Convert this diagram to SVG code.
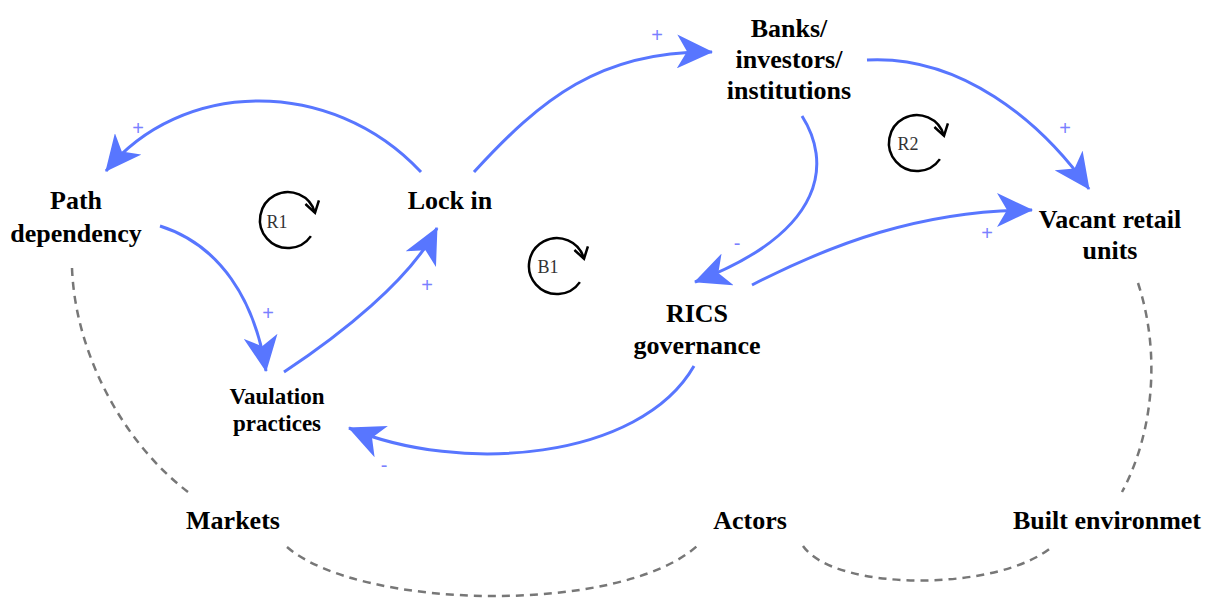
<svg xmlns="http://www.w3.org/2000/svg" width="1218" height="606" viewBox="0 0 1218 606">
<defs>
<style>
.node{font-family:"Liberation Serif","Times New Roman",serif;font-weight:bold;font-size:26px;fill:#000;text-anchor:middle}
.small{font-size:23px}
.link{fill:none;stroke:#5876ff;stroke-width:3;marker-end:url(#ah)}
.dash{fill:none;stroke:#777;stroke-width:2.5;stroke-dasharray:8 6}
.pol{font-family:"Liberation Sans",Arial,sans-serif;font-size:20px;fill:#7a80ff;text-anchor:middle;dominant-baseline:central}
.loop{fill:none;stroke:#000;stroke-width:2.5;marker-end:url(#ch)}
.lt{font-family:"Liberation Serif","Times New Roman",serif;font-size:18px;fill:#333;text-anchor:middle}
</style>
<marker id="ah" markerUnits="userSpaceOnUse" viewBox="0 0 36 34" markerWidth="36" markerHeight="34" refX="35" refY="17" orient="auto">
<path d="M0,0 L36,17 L0,34 L10,17 Z" fill="#5876ff"/>
</marker>
<marker id="ch" markerUnits="userSpaceOnUse" viewBox="0 0 14 16" markerWidth="14" markerHeight="16" refX="12" refY="8" orient="auto">
<path d="M1,1 L12,8 L1,15" fill="none" stroke="#000" stroke-width="2.5"/>
</marker>
</defs>
<rect width="1218" height="606" fill="#fff"/>
<g id="connectors">
<path class="link" d="M421,172 C330,75 180,80 106,171"/>
<path class="link" d="M474,172 C540,100 600,50 712,52"/>
<path class="link" d="M867,60 C960,55 1040,120 1089,189"/>
<path class="link" d="M802,116 C830,160 830,230 695,282"/>
<path class="link" d="M752,285 C830,245 920,210 1032,210"/>
<path class="link" d="M160,226 C220,245 255,300 266,371"/>
<path class="link" d="M284,372 C340,335 410,280 437,228"/>
<path class="link" d="M694,366 C640,460 460,475 349,428"/>
<path class="dash" d="M72,268 C75,350 120,440 188,492"/>
<path class="dash" d="M287,547 C360,610 620,615 697,546"/>
<path class="dash" d="M803,546 C835,592 1000,592 1053,546"/>
<path class="dash" d="M1138,283 C1160,350 1155,430 1122,492"/>
<text class="pol" x="138" y="128">+</text>
<text class="pol" x="657" y="35">+</text>
<text class="pol" x="1065" y="128">+</text>
<text class="pol" x="737" y="243">-</text>
<text class="pol" x="987" y="233">+</text>
<text class="pol" x="268" y="313">+</text>
<text class="pol" x="427" y="285">+</text>
<text class="pol" x="384" y="465">-</text>
</g>
<g id="loop-r1">
<path class="loop" d="M310.9,236.1 A28 28 0 1 1 315,212.8"/>
<text class="lt" x="277" y="228">R1</text>
</g>
<g id="loop-b1">
<path class="loop" d="M579.9,282.1 A28 28 0 1 1 584,258.8"/>
<text class="lt" x="548" y="273">B1</text>
</g>
<g id="loop-r2">
<path class="loop" d="M939.9,159.1 A28 28 0 1 1 944,135.8"/>
<text class="lt" x="908" y="150">R2</text>
</g>
<g id="n-path"><text class="node" x="76" y="209">Path</text><text class="node" x="76" y="242">dependency</text></g>
<g id="n-lock"><text class="node" x="450" y="209">Lock in</text></g>
<g id="n-banks"><text class="node" x="789" y="37">Banks/</text><text class="node" x="789" y="68">investors/</text><text class="node" x="789" y="99">institutions</text></g>
<g id="n-vacant"><text class="node" x="1110" y="228">Vacant retail</text><text class="node" x="1110" y="259">units</text></g>
<g id="n-rics"><text class="node" x="697" y="322">RICS</text><text class="node" x="697" y="354">governance</text></g>
<g id="n-vaul"><text class="node small" x="277" y="404">Vaulation</text><text class="node small" x="277" y="431">practices</text></g>
<g id="n-markets"><text class="node" x="233" y="529">Markets</text></g>
<g id="n-actors"><text class="node" x="750" y="529">Actors</text></g>
<g id="n-built"><text class="node" x="1107" y="529">Built environmet</text></g>
</svg>
